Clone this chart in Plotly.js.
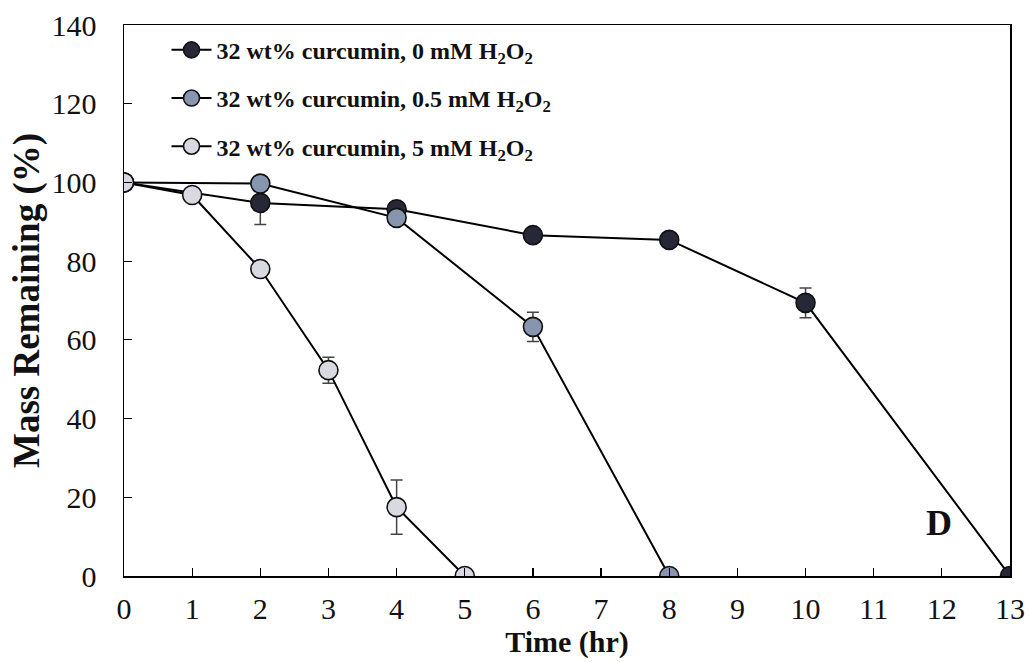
<!DOCTYPE html>
<html>
<head>
<meta charset="utf-8">
<script src="https://cdn.plot.ly/plotly-3.0.1.min.js"></script>
<style>html,body{margin:0;padding:0;background:#fff;}#chart{width:1029px;height:662px;}</style>
</head>
<body>
<div id="chart"></div>
<script>
// Data
const seriesNames = [
  "32 wt% curcumin, 0 mM H<sub>2</sub>O<sub>2</sub>",
  "32 wt% curcumin, 0.5 mM H<sub>2</sub>O<sub>2</sub>",
  "32 wt% curcumin, 5 mM H<sub>2</sub>O<sub>2</sub>"
];
const time0 = [0, 2, 4, 6, 8, 10, 13];
const mass0 = [100, 94.8, 93.2, 86.6, 85.4, 69.4, 0];
const err0  = [0, 5.5, 0, 0, 0, 3.8, 0];

const time05 = [0, 2, 4, 6, 8];
const mass05 = [100, 99.7, 91.0, 63.3, 0];
const err05  = [0, 0, 0, 3.7, 0];

const time5 = [0, 1, 2, 3, 4, 5];
const mass5 = [100, 96.8, 78.0, 52.3, 17.5, 0];
const err5  = [0, 0, 2.0, 3.3, 6.9, 0];

const xTicks = [0,1,2,3,4,5,6,7,8,9,10,11,12,13];
const yTicks = [0,20,40,60,80,100,120,140];

const fillColors = ["#262838", "#8796ae", "#d9d9e1"];

function mk(x, y, e, i) {
  return {
    x: x, y: y, type: "scatter", mode: "lines+markers",
    name: seriesNames[i], legendgroup: "g" + i,
    line: {color: "#000", width: 2},
    marker: {size: 19, color: fillColors[i], line: {color: "#111", width: 1.6}},
    error_y: {type: "data", array: e, visible: true, color: "#444", thickness: 1.5, width: 6}
  };
}

const data = [mk(time0, mass0, err0, 0), mk(time05, mass05, err05, 1), mk(time5, mass5, err5, 2)];

const serif = "Liberation Serif, Times New Roman, serif";

const layout = {
  width: 1029, height: 662,
  margin: {l: 124, r: 19, t: 25, b: 86},
  paper_bgcolor: "#fff", plot_bgcolor: "#fff",
  font: {family: serif, color: "#111"},
  showlegend: true,
  legend: {
    x: 0.048, y: 0.995, xanchor: "left", yanchor: "top",
    font: {size: 24, family: serif, weight: "bold", color: "#111"},
    bgcolor: "rgba(0,0,0,0)", traceorder: "grouped", tracegroupgap: 14,
    itemwidth: 40
  },
  xaxis: {
    range: [0, 13], tickvals: xTicks, ticktext: xTicks.map(String),
    ticks: "inside", ticklen: 8, tickwidth: 1.2, tickcolor: "#000",
    showline: true, linecolor: "#000", linewidth: 1.5, mirror: true,
    showgrid: false, zeroline: false,
    ticklabelstandoff: 5,
    tickfont: {size: 30, family: serif, color: "#111"},
    title: {text: "<b>Time (hr)</b>", font: {size: 30, family: serif, color: "#111"}, standoff: 0}
  },
  yaxis: {
    range: [0, 140], tickvals: yTicks, ticktext: yTicks.map(String),
    ticks: "inside", ticklen: 8, tickwidth: 1.2, tickcolor: "#000",
    showline: true, linecolor: "#000", linewidth: 1.5, mirror: true,
    showgrid: false, zeroline: false,
    ticklabelstandoff: 20,
    tickfont: {size: 30, family: serif, color: "#111"},
    title: {text: "<b>Mass Remaining (%)</b>", font: {size: 37, family: serif, color: "#111"}, standoff: 0}
  },
  annotations: [{
    text: "<b>D</b>", x: 0.92, y: 0.096, xref: "paper", yref: "paper",
    xanchor: "center", yanchor: "middle",
    showarrow: false, font: {size: 36, family: serif, color: "#111"}
  }]
};

Plotly.newPlot("chart", data, layout, {displayModeBar: false, staticPlot: true});
</script>
</body>
</html>
